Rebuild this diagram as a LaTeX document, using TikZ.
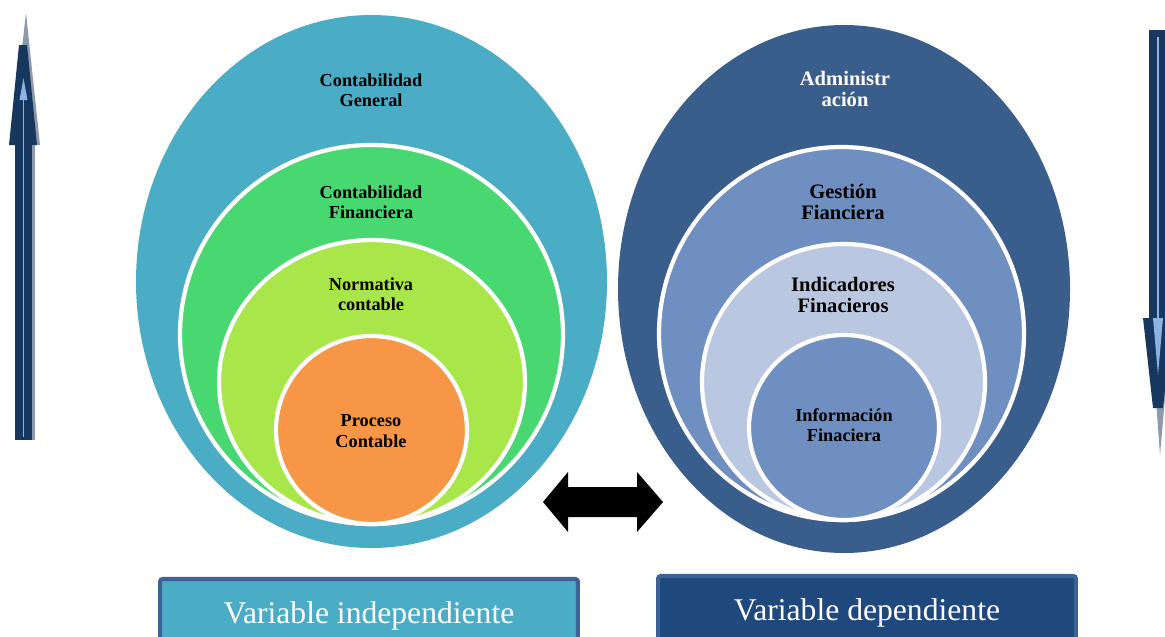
\documentclass[tikz,border=0pt]{standalone}
\usepackage{fontspec}
\setmainfont{Liberation Serif}
\usepackage{tikz}
\usepackage{xcolor}

\definecolor{tealbg}{HTML}{4BACC6}
\definecolor{greenbg}{HTML}{48D771}
\definecolor{limebg}{HTML}{A8E64A}
\definecolor{orangebg}{HTML}{F79646}
\definecolor{darkbg}{HTML}{3A5E8B}
\definecolor{midbg}{HTML}{6F8FC0}
\definecolor{palebg}{HTML}{B9C7E0}
\definecolor{boxedge}{HTML}{3D6296}
\definecolor{boxdark}{HTML}{1F497D}
\definecolor{arrownavy}{HTML}{17375E}
\definecolor{arrowlight}{HTML}{8DB3E2}
\definecolor{arrowgray}{HTML}{8E9AAB}

\begin{document}
\begin{tikzpicture}[
    x=0.02cm, y=-0.02cm,
    ring/.style={draw=white, line width=2.4pt},
    tag/.style={align=center, inner sep=0pt, text=black, font=\bfseries\fontsize{10.4}{11.5}\selectfont},
    bigtag/.style={tag, font=\bfseries\fontsize{11.7}{12.2}\selectfont},
    varbox/.style={rectangle, draw=boxedge, line width=2.3pt, rounded corners=1.5pt, minimum width=8.36cm, minimum height=1.48cm, text=white, font=\fontsize{18}{20}\selectfont},
]

\clip (0,0) rectangle (1165,636);

% Independent variable
\fill[tealbg] (371.5,281.5) ellipse [x radius=235.5, y radius=266.5];
\filldraw[ring, fill=greenbg] (371.5,334.5) ellipse [x radius=191.5, y radius=189.5];
\filldraw[ring, fill=limebg] (372,382) ellipse [x radius=153, y radius=142];
\filldraw[ring, fill=orangebg] (371.5,430) ellipse [x radius=95.5, y radius=94];

\node[tag] (general) at (371,90) {Contabilidad\\General};
\node[tag] (financiera) at (371,202) {Contabilidad\\Financiera};
\node[tag] (normativa) at (371,294) {Normativa\\contable};
\node[tag] (proceso) at (371,431) {Proceso\\Contable};

% Dependent variable
\fill[darkbg] (844,289) ellipse [x radius=226, y radius=264];
\filldraw[ring, fill=midbg] (841.5,333.5) ellipse [x radius=182.5, y radius=186.5];
\filldraw[ring, fill=palebg] (843.5,382) ellipse [x radius=141.5, y radius=138];
\filldraw[ring, fill=midbg] (844,427.5) ellipse [x radius=95, y radius=92.5];

\node[bigtag, text=white] (admin) at (845,89) {Administr\\ación};
\node[bigtag] (gestion) at (843,202) {Gestión\\Fianciera};
\node[bigtag] (indicadores) at (843,295) {Indicadores\\Finacieros};
\node[tag] (informacion) at (844,425) {Información\\Finaciera};

% Two-way link between both variables
\fill[black] (543,502) -- (568,472) -- (568,487) -- (637,487) -- (637,472)
    -- (663,502) -- (637,532) -- (637,517) -- (568,517) -- (568,532) -- cycle;

% Upward arrow
\fill[arrowgray] (11,145) -- (40,145) -- (26,13) -- cycle;
\fill[arrowgray] (17,145) rectangle (34.5,440);
\fill[arrownavy] (15,145) rectangle (32,440);
\fill[arrownavy] (9,145) -- (37,145) -- (27,45) -- (19,45) -- cycle;
\fill[arrowlight] (19.5,100) -- (27.5,100) -- (23.5,78) -- cycle;
\draw[arrowlight, line width=0.8pt] (23.5,100) -- (23.5,437);

% Downward arrow
\fill[arrowgray] (1150,318) -- (1172,318) -- (1160,455) -- cycle;
\fill[arrownavy] (1149,30) rectangle (1167,318);
\fill[arrownavy] (1143,318) -- (1173,318) -- (1163,408) -- (1153,408) -- cycle;
\draw[arrowlight, line width=0.8pt] (1158,37) -- (1158,318);
\fill[arrowlight] (1153,318) -- (1163,318) -- (1158,375) -- cycle;

% Variable labels
\node[varbox, fill=tealbg] (indep) at (369,616) {Variable independiente};
\node[varbox, fill=boxdark] (dep) at (867,613) {Variable dependiente};

\end{tikzpicture}
\end{document}
